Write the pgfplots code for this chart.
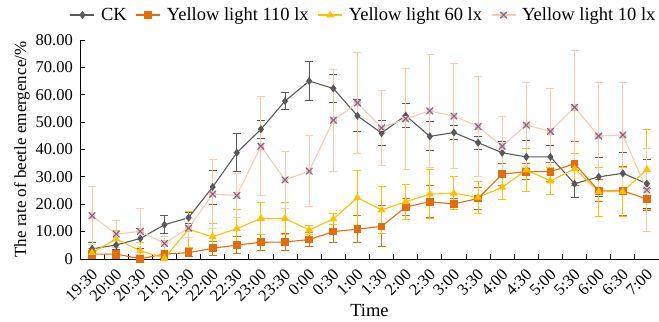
\documentclass[border=0pt]{standalone}
\usepackage{fontspec}
\setmainfont{Liberation Serif}
\usepackage{pgfplots}
\usepackage{pgfplotstable}
\pgfplotsset{compat=1.18}
\definecolor{cCK}{HTML}{595959}
\definecolor{c110}{HTML}{E46C0A}
\definecolor{c60}{HTML}{FFC000}
\definecolor{c10}{HTML}{F8CBAD}
\definecolor{c10fill}{HTML}{F4C4A8}
\definecolor{c10mark}{HTML}{8064A2}
\pgfdeclareplotmark{sqx}{%
 \pgfpathrectangle{\pgfpoint{-\pgfplotmarksize}{-\pgfplotmarksize}}{\pgfpoint{2\pgfplotmarksize}{2\pgfplotmarksize}}%
 \pgfsetfillcolor{c10fill}\pgfusepathqfill
 \pgfpathmoveto{\pgfpoint{-\pgfplotmarksize}{-\pgfplotmarksize}}\pgfpathlineto{\pgfpoint{\pgfplotmarksize}{\pgfplotmarksize}}%
 \pgfpathmoveto{\pgfpoint{-\pgfplotmarksize}{\pgfplotmarksize}}\pgfpathlineto{\pgfpoint{\pgfplotmarksize}{-\pgfplotmarksize}}%
 \pgfusepathqstroke}
\pgfplotstableread{
x y e
0 3.7 2.5
1 5.1 1.5
2 7.5 3.5
3 12.5 3.3
4 15.1 2.0
5 26.3 6.2
6 38.8 7.0
7 47.4 3.3
8 57.7 3.0
9 65.0 7.0
10 62.3 5.2
11 52.3 5.8
12 46.0 4.5
13 52.4 4.4
14 44.8 5.3
15 46.2 2.5
16 42.5 2.4
17 38.8 4.0
18 37.3 6.0
19 37.3 4.0
20 27.5 5.0
21 30.0 7.0
22 31.3 7.5
23 27.5 9.0
}\tCK
\pgfplotstableread{
x y e
0 1.8 1.5
1 1.8 1.5
2 0.1 0.5
3 1.8 1.5
4 2.3 1.5
5 3.9 2.5
6 5.1 3.0
7 6.1 3.0
8 6.2 3.0
9 7.1 2.5
10 10.0 4.0
11 10.9 5.0
12 11.9 7.5
13 19.0 3.0
14 20.9 5.8
15 20.1 2.0
16 22.1 4.0
17 31.0 4.0
18 31.9 3.0
19 31.9 3.5
20 34.8 8.0
21 24.9 4.0
22 24.9 9.0
23 21.9 4.0
}\tA
\pgfplotstableread{
x y e
0 2.3 1.5
1 7.3 3.0
2 3.0 3.0
3 0.4 1.0
4 10.8 6.5
5 8.1 5.0
6 11.1 7.0
7 14.8 6.0
8 14.8 6.0
9 10.6 1.5
10 14.6 2.0
11 22.4 10.0
12 17.9 8.5
13 20.9 6.5
14 23.7 9.0
15 24.0 6.0
16 22.5 6.0
17 26.2 4.5
18 32.5 8.0
19 28.5 5.0
20 33.0 5.5
21 24.6 9.0
22 24.6 9.0
23 32.7 14.5
}\tB
\pgfplotstableread{
x y e
0 15.8 10.6
1 9.1 4.9
2 10.1 8.5
3 5.7 2.7
4 11.3 3.5
5 23.7 12.7
6 23.2 8.0
7 41.2 18.0
8 28.9 10.3
9 32.1 12.9
10 50.7 18.6
11 57.0 18.3
12 47.9 13.8
13 51.2 18.4
14 54.1 20.7
15 52.2 19.1
16 48.4 18.4
17 41.2 10.7
18 48.9 15.6
19 46.6 15.7
20 55.4 20.9
21 44.9 19.6
22 45.3 19.2
23 25.2 15.1
}\tC
\begin{document}
\begin{tikzpicture}
\begin{axis}[
  name=ax,
  scale only axis,
  width=579bp, height=219bp,
  xmin=-0.5, xmax=23.5,
  ymin=0, ymax=80,
  axis x line=bottom, axis y line=left,
  axis line style={-, line width=0.9bp, black},
  tick align=inside,
  xtick={0,...,23},
  xticklabels={19:30,20:00,20:30,21:00,21:30,22:00,22:30,23:00,23:30,0:00,0:30,1:00,1:30,2:00,2:30,3:00,3:30,4:00,4:30,5:00,5:30,6:00,6:30,7:00},
  major x tick style={draw=none},
  minor xtick={-0.5,0.5,...,23.5},
  minor tick length=5bp,
  minor x tick style={black, line width=0.9bp},
  ytick={0,10,...,80},
  yticklabels={0,10.00,20.00,30.00,40.00,50.00,60.00,70.00,80.00},
  major tick length=5bp,
  major y tick style={black, line width=0.9bp},
  xticklabel style={xshift=3.5bp, yshift=-12bp, rotate=45, anchor=east, inner sep=1bp, font=\fontsize{16.5bp}{19bp}\selectfont},
  yticklabel style={anchor=east, inner sep=0bp, xshift=-7bp, font=\fontsize{16.5bp}{19bp}\selectfont},
  /pgf/number format/assume math mode=true,
  xlabel={Time},
  ylabel={The rate of beetle emergence/\%},
  xlabel style={at={(axis description cs:0.5,0)}, anchor=base, yshift=-58bp, font=\fontsize{18.5bp}{21bp}\selectfont},
  ylabel style={at={([xshift=-58bp]axis description cs:0,0.5)}, anchor=center, font=\fontsize{17bp}{20bp}\selectfont},
  legend columns=4,
  legend style={draw=none, fill=none, at={(0.49,1)}, anchor=center, yshift=25bp,
    font=\fontsize{18.5bp}{21bp}\selectfont, inner sep=0pt,
    nodes={inner sep=2bp},
    /tikz/every odd column/.append style={column sep=4bp},
    /tikz/every even column/.append style={column sep=7bp}},
  legend image code/.code={\draw[#1] (0bp,0bp) -- (24bp,0bp); \draw[#1, only marks] plot coordinates {(12bp,0bp)};},
  clip=false,
  error bars/y dir=both,
  error bars/y explicit,
]
\addplot[color=cCK, line width=1.1bp, mark=diamond*, mark size=3.2bp, mark options={fill=cCK},
  error bars/error bar style={cCK, line width=0.9bp},
  error bars/error mark options={rotate=90, cCK, mark size=4bp, line width=0.9bp}]
  table[x=x, y=y, y error=e] {\tCK};
\addlegendentry{CK}
\addplot[color=c110, line width=1.1bp, mark=square*, mark size=3.3bp, mark options={fill=c110},
  error bars/error bar style={c110, line width=0.9bp},
  error bars/error mark options={rotate=90, c110, mark size=4bp, line width=0.9bp}]
  table[x=x, y=y, y error=e] {\tA};
\addlegendentry{Yellow light 110 lx}
\addplot[color=c60, line width=1.1bp, mark=triangle*, mark size=3.5bp, mark options={fill=c60},
  error bars/error bar style={c60, line width=0.9bp},
  error bars/error mark options={rotate=90, c60, mark size=4bp, line width=0.9bp}]
  table[x=x, y=y, y error=e] {\tB};
\addlegendentry{Yellow light 60 lx}
\addplot[color=c10, line width=1.1bp, mark=sqx, mark size=3.3bp, mark options={draw=c10mark, line width=1.1bp},
  error bars/error bar style={c10, line width=0.9bp},
  error bars/error mark options={rotate=90, c10, mark size=4bp, line width=0.9bp}]
  table[x=x, y=y, y error=e] {\tC};
\addlegendentry{Yellow light 10 lx}
\end{axis}
\pgfresetboundingbox
\path ([xshift=-80bp,yshift=-63bp]ax.south west) rectangle ([yshift=40bp]ax.north east);
\end{tikzpicture}
\end{document}
